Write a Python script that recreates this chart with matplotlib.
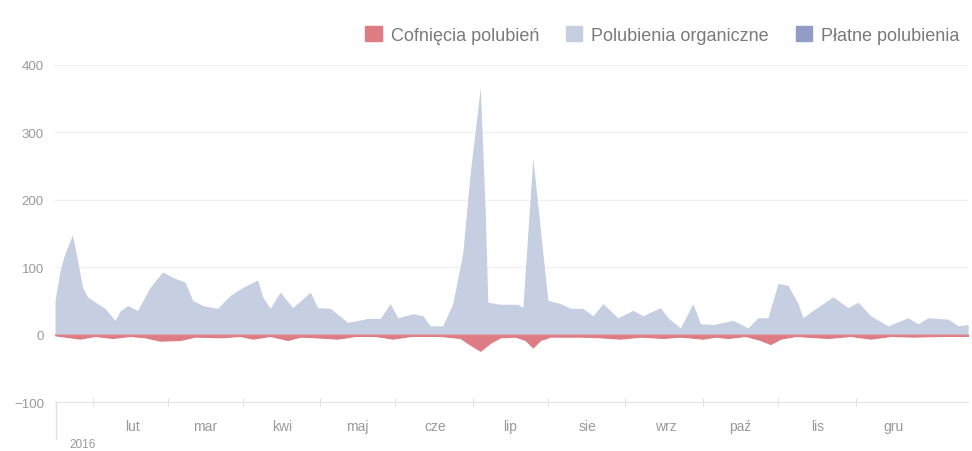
import numpy as np
import matplotlib
matplotlib.use("Agg")
import matplotlib.pyplot as plt
from matplotlib.patches import Patch

# day of year (0 = 1 Jan 2016) and values
org_days = [0, 2, 4, 7, 9, 11, 13, 17, 20, 24, 26, 29, 33, 38, 43, 47, 52, 55, 59, 65,
            70, 75, 81, 83, 86, 90, 95, 102, 105, 110, 117, 125, 130, 134, 137, 143, 147,
            150, 155, 159, 163, 166, 170, 172, 173, 178, 185, 187, 191, 197, 202, 206,
            211, 215, 219, 225, 231, 235, 242, 245, 250, 255, 258, 263, 271, 277, 281,
            285, 289, 293, 297, 299, 303, 311, 317, 321, 326, 333, 341, 345, 349, 357,
            361, 365]
organic = [50, 95, 121, 148, 110, 70, 56, 46, 39, 21, 35, 43, 36, 70, 93, 85, 78, 51, 43, 39,
           58, 70, 81, 56, 39, 63, 40, 63, 40, 39, 18, 24, 24, 46, 25, 31, 28,
           13, 13, 46, 121, 241, 366, 180, 48, 45, 45, 40, 262, 51, 46, 39,
           39, 28, 46, 25, 36, 28, 40, 25, 10, 46, 16, 15, 21, 10, 25,
           25, 76, 73, 46, 25, 36, 56, 40, 48, 28, 13, 25, 16, 25, 23,
           13, 15]
paid = [0] * len(organic)

unlike_days = [0, 4, 10, 16, 23, 30, 36, 42, 50, 56, 66, 74, 79, 86, 93, 98, 104, 113, 120,
               128, 135, 142, 154, 162, 166, 170, 174, 178, 184, 188, 191, 194, 198, 210,
               218, 226, 234, 243, 250, 259, 264, 269, 276, 282, 286, 290, 296, 309, 318,
               326, 334, 343, 354, 365]
unlikes = [-1, -3, -6, -2, -5, -2, -4, -9, -8, -3, -4, -2, -6, -2, -8, -3, -4, -6, -2,
           -2, -6, -2, -2, -5, -15, -24, -12, -4, -3, -8, -19, -8, -3, -3,
           -4, -6, -3, -5, -3, -6, -3, -5, -2, -8, -14, -6, -2, -5, -2,
           -6, -2, -3, -2, -2]

month_starts = [31, 60, 91, 121, 152, 182, 213, 244, 274, 305, 335]
month_labels = ["lut", "mar", "kwi", "maj", "cze", "lip", "sie", "wrz", "paź", "lis", "gru"]
mid_months = [15, 45, 75, 106, 136, 167, 197, 228, 259, 289, 320]
year_label = "2016"

c_unlike = "#de7c84"
c_org = "#c5cfe1"
c_paid = "#909dc6"
c_text = "#9a9a9a"

plt.rcParams["font.family"] = ["Liberation Sans", "DejaVu Sans"]

fig = plt.figure(figsize=(9.72, 4.52), dpi=100)
ax = fig.add_axes([0.0566, 0.1084, 0.9394, 0.7456])

paid_a = np.array(paid, dtype=float)
org_a = np.array(organic, dtype=float)
ax.fill_between(org_days, 0, paid_a, color=c_paid, lw=0)
ax.fill_between(org_days, paid_a, paid_a + org_a, color=c_org, lw=0)
ax.fill_between(unlike_days, unlikes, 0, facecolor=c_unlike, edgecolor=c_unlike, lw=0.8)

ax.set_xlim(0, 365)
ax.set_ylim(-100, 400)
ax.set_yticks([-100, 0, 100, 200, 300, 400])
ax.grid(axis="y", color="#f0f0f0", lw=1)
ax.set_axisbelow(True)
for s in ["top", "right", "left"]:
    ax.spines[s].set_visible(False)
ax.spines["bottom"].set_color("#e4e4e4")
ax.tick_params(axis="y", length=0, pad=8, labelsize=9.5, labelcolor=c_text)

ax.set_xticks(month_starts)
ax.set_xticklabels(month_labels)
ax.set_xticks(mid_months, minor=True)
ax.tick_params(axis="x", which="major", length=0, pad=12, labelsize=10, labelcolor=c_text)
ax.tick_params(axis="x", which="minor", length=6, direction="inout", color="#d8d8d8")

trans = ax.get_xaxis_transform()
ax.text(11, -0.125, year_label, transform=trans, ha="center", va="center",
        fontsize=8.5, color=c_text)
ax.plot([0.5, 0.5], [0, -0.11], transform=trans, color="#e0e0e0", lw=1, clip_on=False)

handles = [Patch(color=c_unlike), Patch(color=c_org), Patch(color=c_paid)]
labels = ["Cofnięcia polubień", "Polubienia organiczne", "Płatne polubienia"]
fig.legend(handles, labels, loc="center right", bbox_to_anchor=(1.004, 0.92), ncol=3,
           frameon=False, fontsize=13, labelcolor="#7a7a7a", handlelength=0.9,
           handleheight=0.9, handletextpad=0.5, columnspacing=1.5)

fig.savefig("out.png", dpi=100)
